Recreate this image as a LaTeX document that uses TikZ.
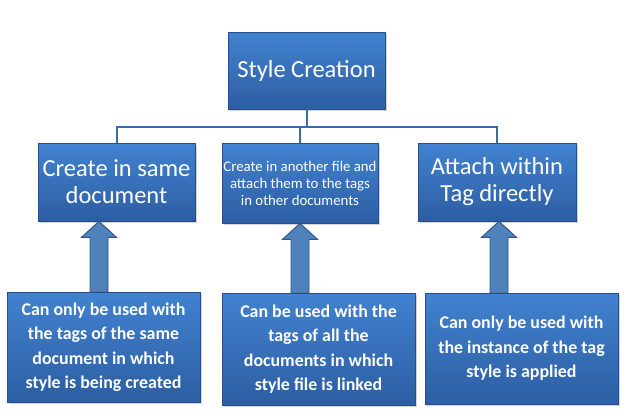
\documentclass[tikz,border=0pt]{standalone}
\usepackage{fontspec}
\setmainfont{Carlito}
\usetikzlibrary{shadows,calc}
\definecolor{boxtop}{RGB}{66,130,208}
\definecolor{boxbot}{RGB}{44,94,162}
\definecolor{boxedge}{RGB}{38,78,136}
\definecolor{connc}{RGB}{62,108,166}
\definecolor{arrfill}{RGB}{79,129,189}
\definecolor{arredge}{RGB}{50,85,130}
\tikzset{
  bx/.style={rectangle, top color=boxtop, bottom color=boxbot, draw=boxedge, line width=0.6pt,
    text=white, align=center, inner sep=1pt,
    drop shadow={opacity=0.35, shadow xshift=1.5pt, shadow yshift=-2pt}},
  conn/.style={draw=connc, line width=2pt},
  barrow/.style={fill=arrfill, draw=arredge, line width=0.9pt, line join=miter}
}
\begin{document}
\begin{tikzpicture}[x=1pt,y=-1pt]
\useasboundingbox (0,0) rectangle (624,416);
% top
\node[bx, minimum width=157pt, minimum height=77pt, font=\fontsize{24.5}{28}\selectfont] (top) at (306.5,70.5) {Style Creation};
% middle row
\node[bx, minimum width=157pt, minimum height=78pt, font=\fontsize{24.5}{27}\selectfont] (ml) at (116.5,182) {Create in same\\document};
\node[bx, minimum width=156pt, minimum height=80pt, font=\fontsize{14.8}{17}\selectfont] (mm) at (300,183) {Create in another file and\\attach them to the tags\\in other documents};
\node[bx, minimum width=158pt, minimum height=78pt, font=\fontsize{24.5}{27}\selectfont] (mr) at (497,182) {Attach within\\Tag directly};
% bottom row
\node[bx, minimum width=193pt, minimum height=110pt, font=\bfseries\fontsize{17.9}{24.5}\selectfont] (bl) at (103.5,347) {Can only be used with\\the tags of the same\\document in which\\style is being created};
\node[bx, minimum width=193pt, minimum height=112pt, font=\bfseries\fontsize{17.9}{24.5}\selectfont] (bm) at (318.5,349) {Can be used with the\\tags of all the\\documents in which\\style file is linked};
\node[bx, minimum width=193pt, minimum height=111pt, font=\bfseries\fontsize{17.9}{24.5}\selectfont] (br) at (521.5,348.5) {Can only be used with\\the instance of the tag\\style is applied};
% connectors
\coordinate (bus) at (0,127);
\draw[conn] (top.south) -- (top.south |- bus);
\draw[conn] (ml.north) |- (mr.north |- bus) -- (mr.north);
\draw[conn] (mm.north) -- (mm.north |- bus);
% block arrows
\foreach \t/\b/\dx in {ml/bl/-17.5, mm/bm/0, mr/br/2}{
  \coordinate (tip) at ([xshift=\dx pt]\t.south);
  \coordinate (sl) at ([xshift=-9pt]tip);
  \coordinate (sr) at ([xshift=9pt]tip);
  \filldraw[barrow] (tip) -- ++(17.5,16) -- ($(sr)+(0,16)$) -- (sr |- \b.north) -- (sl |- \b.north) -- ($(sl)+(0,16)$) -- ($(tip)+(-17.5,16)$) -- cycle;
}
\end{tikzpicture}
\end{document}
